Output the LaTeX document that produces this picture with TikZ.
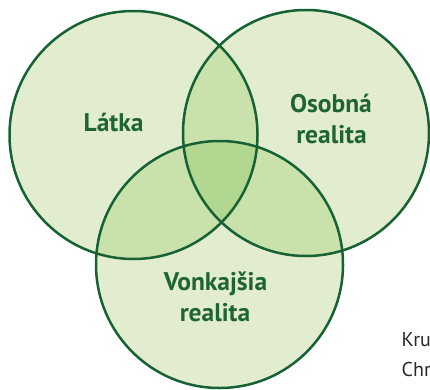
\documentclass[tikz,border=0pt]{standalone}
\usepackage{fontspec}
\setmainfont{PT Sans}
\definecolor{cLight}{RGB}{225,237,206}
\definecolor{cTwo}{RGB}{201,225,170}
\definecolor{cThree}{RGB}{178,215,145}
\definecolor{cLine}{RGB}{22,98,52}
\definecolor{cText}{RGB}{30,100,55}
\definecolor{cSide}{RGB}{40,40,40}
\tikzset{
  ring/.style={draw=cLine, line width=2.5pt},
  lbl/.style={text=cText, font=\fontsize{25.5}{30}\selectfont\bfseries, anchor=base, inner sep=0pt},
  side/.style={text=cSide, font=\fontsize{20}{24}\selectfont, anchor=base west, inner sep=0pt}
}
\begin{document}
\begin{tikzpicture}[x=1pt,y=1pt]
\useasboundingbox (0,0) rectangle (430,389);
\coordinate (L) at (133.5,254);
\coordinate (R) at (306,256);
\coordinate (B) at (219.5,124.5);
\def\rL{124}\def\rR{123}\def\rB{123.5}
% base fills
\fill[cLight] (L) circle (\rL);
\fill[cLight] (R) circle (\rR);
\fill[cLight] (B) circle (\rB);
% pairwise overlaps
\begin{scope}\clip (L) circle (\rL); \fill[cTwo] (R) circle (\rR); \end{scope}
\begin{scope}\clip (L) circle (\rL); \fill[cTwo] (B) circle (\rB); \end{scope}
\begin{scope}\clip (R) circle (\rR); \fill[cTwo] (B) circle (\rB); \end{scope}
% triple overlap
\begin{scope}\clip (L) circle (\rL); \clip (R) circle (\rR); \fill[cThree] (B) circle (\rB); \end{scope}
% outlines
\draw[ring] (L) circle (\rL);
\draw[ring] (R) circle (\rR);
\draw[ring] (B) circle (\rB);
% labels
\node[lbl] (latka) at (113.5,258) {Látka};
\node[lbl] (osobna) at (331,277) {Osobná};
\node[lbl] (osreal) at (331.5,246) {realita};
\node[lbl] (vonk) at (215.5,99) {Vonkajšia};
\node[lbl] (vonreal) at (215,67.5) {realita};
% side text (cut off at the page edge)
\node[side] (kru) at (401.5,43) {Kru};
\node[side] (chr) at (401.5,13) {Chr};
\end{tikzpicture}
\end{document}
